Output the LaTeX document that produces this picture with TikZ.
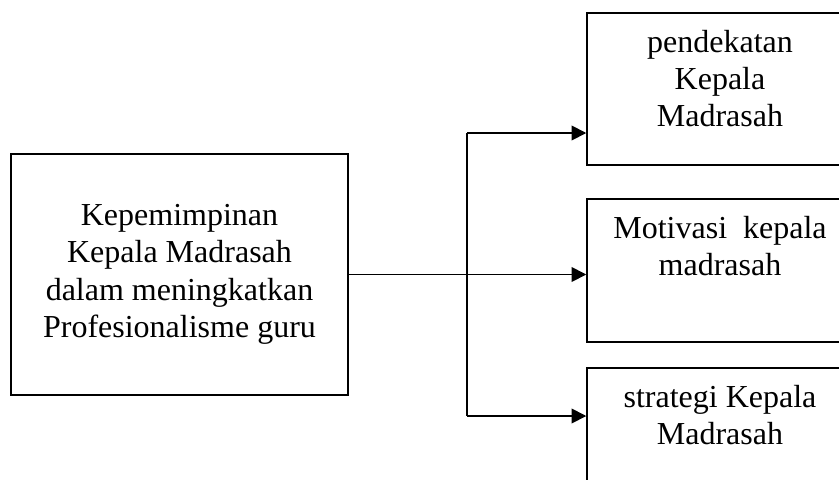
\documentclass[tikz,border=0pt]{standalone}
\usepackage{fontspec}
\setmainfont{Liberation Serif}
\usetikzlibrary{arrows.meta,positioning}

\begin{document}
\begin{tikzpicture}[x=0.75pt,y=-0.75pt,
    box/.style={draw,line width=1.1pt,inner sep=0pt,minimum width=199.5pt},
    boxtext/.style={anchor=north,yshift=-13pt,align=center,inner sep=0pt,font=\fontsize{24pt}{28pt}\selectfont},
    arr/.style={draw,line width=1.3pt,-{Triangle[length=11pt,width=11pt]}}]
    \useasboundingbox (0,0) rectangle (839,479);
    \node[box,minimum width=252.75pt,minimum height=180.75pt,align=center,font=\fontsize{24pt}{28pt}\selectfont] (main) at (179.5,274.5)
        {Kepemimpinan\\Kepala Madrasah\\dalam meningkatkan\\Profesionalisme guru};
    \node[box,minimum height=114pt,label={[boxtext]north:{pendekatan\\Kepala\\Madrasah}}] (pendekatan) at (720,89) {};
    \node[box,minimum height=107.25pt,label={[boxtext]north:{Motivasi\ \ kepala\\madrasah}}] (motivasi) at (720,270.5) {};
    \node[box,minimum height=106.5pt,label={[boxtext]north:{strategi Kepala\\Madrasah}}] (strategi) at (720,439) {};
    \coordinate (split top) at (467,133);
    \coordinate (split bot) at (467,416);
    \draw[line width=1.1pt] (split top) -- (split bot);
    \draw[arr] (main.east) -- (main.east -| motivasi.west);
    \draw[arr] (split top) -- (split top -| pendekatan.west);
    \draw[arr] (split bot) -- (split bot -| strategi.west);
\end{tikzpicture}
\end{document}
